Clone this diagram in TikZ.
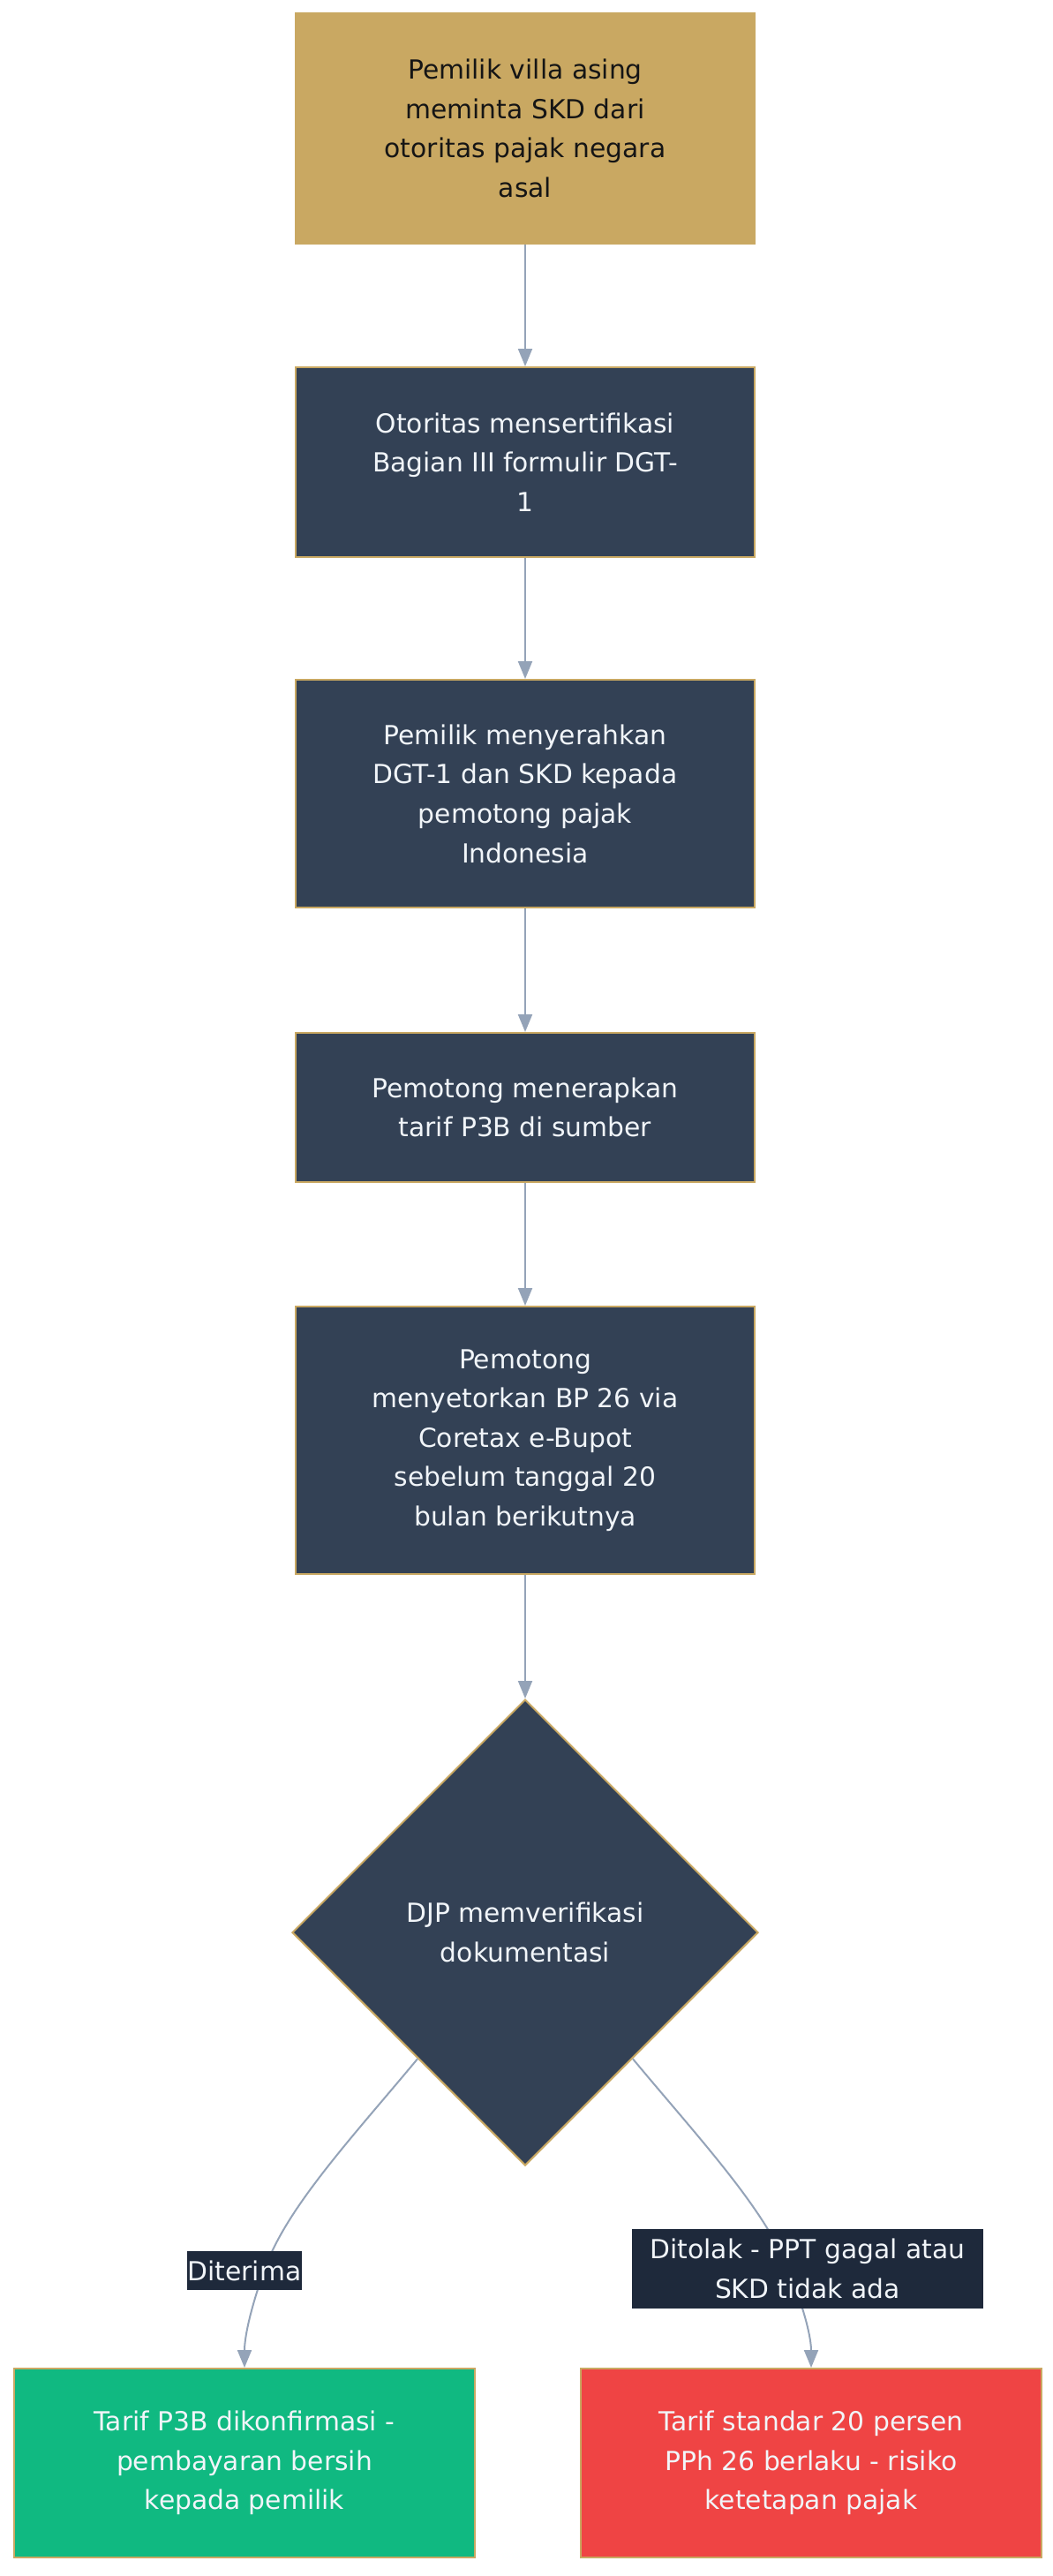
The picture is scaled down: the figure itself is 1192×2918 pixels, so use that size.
\documentclass[tikz,border=0pt]{standalone}
\usepackage{fontspec}
\setmainfont{DejaVu Sans}
\usetikzlibrary{shapes.geometric,arrows.meta,calc}
\definecolor{gold}{HTML}{C9A862}
\definecolor{slatebox}{HTML}{334155}
\definecolor{labelbg}{HTML}{1E293B}
\definecolor{edgec}{HTML}{94A3B8}
\definecolor{okgreen}{HTML}{10B981}
\definecolor{badred}{HTML}{EF4444}
\definecolor{lighttext}{HTML}{F1F5F9}
\definecolor{darktext}{HTML}{151515}
\begin{document}
\begin{tikzpicture}[x=1pt,y=-1pt,
  txt/.style={font=\fontsize{29.75}{44.6}\selectfont, align=center},
  box/.style={txt, rectangle, draw=gold, line width=2pt, fill=slatebox, text=lighttext, minimum width=520pt, inner sep=0pt},
  startbox/.style={box, fill=gold, draw=gold, text=darktext},
  decision/.style={txt, diamond, draw=gold, line width=2pt, fill=slatebox, text=lighttext, minimum width=528pt, minimum height=528pt, inner sep=0pt},
  elabel/.style={txt, fill=labelbg, text=lighttext, inner sep=0pt},
  arr/.style={draw=edgec, line width=2pt, -{Triangle[length=20pt,width=16pt]}}
]
\useasboundingbox (0,0) rectangle (1192,2918);
\fill[white] (0,0) rectangle (1192,2918);

\node[startbox, minimum height=261pt] (b1) at (595,145.5) {Pemilik villa asing\\meminta SKD dari\\otoritas pajak negara\\asal};
\node[box, minimum height=215pt] (b2) at (595,523.5) {Otoritas mensertifikasi\\Bagian III formulir DGT-\\1};
\node[box, minimum height=258pt] (b3) at (595,899) {Pemilik menyerahkan\\DGT-1 dan SKD kepada\\pemotong pajak\\Indonesia};
\node[box, minimum height=169pt] (b4) at (595,1254.5) {Pemotong menerapkan\\tarif P3B di sumber};
\node[box, minimum height=303pt] (b5) at (595,1631.5) {Pemotong\\menyetorkan BP 26 via\\Coretax e-Bupot\\sebelum tanggal 20\\bulan berikutnya};
\node[decision] (d) at (595,2189) {DJP memverifikasi\\dokumentasi};
\node[box, fill=okgreen, minimum width=522pt, minimum height=214pt] (ok) at (277,2790) {Tarif P3B dikonfirmasi -\\pembayaran bersih\\kepada pemilik};
\node[box, fill=badred, minimum width=522pt, minimum height=214pt] (bad) at (919,2790) {Tarif standar 20 persen\\PPh 26 berlaku - risiko\\ketetapan pajak};

\draw[arr] (b1) -- (b2);
\draw[arr] (b2) -- (b3);
\draw[arr] (b3) -- (b4);
\draw[arr] (b4) -- (b5);
\draw[arr] (b5) -- (d);

\coordinate (dl) at ($(d.south)!0.46!(d.west)$);
\coordinate (dr) at ($(d.south)!0.46!(d.east)$);
\draw[arr] (dl) .. controls (400,2420) and (325,2500) .. (300,2570) .. controls (282,2620) and (277,2650) .. (ok.north);
\draw[arr] (dr) .. controls (790,2420) and (865,2500) .. (893,2570) .. controls (913,2620) and (919,2650) .. (bad.north);

\node[elabel, minimum width=130pt, minimum height=44pt] (l1) at (277,2572) {Diterima};
\node[elabel, minimum width=398pt, minimum height=90pt] (l2) at (915,2570) {Ditolak - PPT gagal atau\\SKD tidak ada};
\end{tikzpicture}
\end{document}
